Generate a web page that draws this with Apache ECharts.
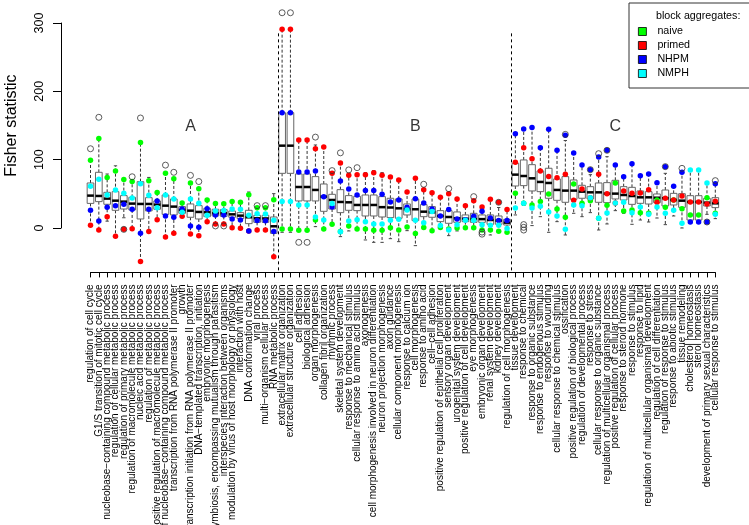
<!DOCTYPE html>
<html><head><meta charset="utf-8">
<script src="https://cdn.jsdelivr.net/npm/echarts@6/dist/echarts.min.js"></script>
<style>html,body{margin:0;padding:0;background:#fff}#c{width:749px;height:525px}</style>
</head><body><div id="c"></div>
<script>
const categories = [
"regulation of cell cycle","G1/S transition of mitotic cell cycle","nucleobase\u2212containing compound metabolic process","regulation of cellular metabolic process","regulation of primary metabolic process","regulation of macromolecule metabolic process","nucleic acid metabolic process","regulation of metabolic process","positive regulation of macromolecule metabolic process","regulation of nucleobase\u2212containing compound metabolic process","transcription from RNA polymerase II promoter","growth","transcription initiation from RNA polymerase II promoter","DNA\u2212templated transcription, initiation","embryonic morphogenesis","symbiosis, encompassing mutualism through parasitism","interspecies interaction between organisms","modulation by virus of host morphology or physiology","interaction with host","DNA conformation change","viral process","multi\u2212organism cellular process","RNA metabolic process",
"extracellular matrix organization","extracellular structure organization","cell adhesion","biological adhesion","organ morphogenesis","collagen fibril organization","rhythmic process","skeletal system development","response to mechanical stimulus","cellular response to amino acid stimulus","axonogenesis","cell morphogenesis involved in neuron differentiation","neuron projection morphogenesis","axon guidance","cellular component morphogenesis","response to calcium ion","cell morphogenesis","response to amino acid","cell\u2212cell adhesion","positive regulation of epithelial cell proliferation","sensory organ development","urogenital system development","positive regulation of cell development","eye morphogenesis","embryonic organ development","renal system development","kidney development","regulation of cell morphogenesis",
"tissue development","response to chemical","response to organic substance","response to endogenous stimulus","response to wounding","cellular response to chemical stimulus","ossification","positive regulation of biological process","regulation of developmental process","response to stress","cellular response to organic substance","regulation of multicellular organismal process","positive regulation of cellular process","response to steroid hormone","response to stimulus","response to lipid","regulation of multicellular organismal development","regulation of cell differentiation","regulation of response to stimulus","response to abiotic stimulus","tissue remodeling","cholesterol homeostasis","sterol homeostasis","development of primary sexual characteristics","cellular response to stimulus"];

const boxLow = [4,-3,10,-12,15,-1,-49,-5,12,-13,-8,17,-8.7,-11,9.3,5.9,6,0.5,-0.5,-4.3,-2.9,-3,-41.9,
-6.3,-6.3,-3.4,-3.4,2,-1.4,5.4,-12.6,-4.3,-1.4,-17.5,-21,-21,-15.6,-20,-3.9,-25.8,0.9,-3.9,0.9,-11.2,-4.3,0.5,0.5,-2.9,-10.2,-4.8,-6.3,
19.1,33,3.5,16.6,-6.3,9.3,-10.2,21.5,16.6,22.5,-2.9,5.9,25.4,21.5,5.4,11.7,8.8,14.6,4.9,17.6,0,8.8,8.8,20,13.7];
const boxQ1 = [36,38.6,34.7,25.9,27.8,26.4,13.2,25,27.4,20,19.1,21.5,15.7,13.2,16.6,17.6,17,15.7,13.7,6.4,8.3,8.3,-7.8,
80,80,39.6,39.6,39.6,24.4,27.8,22.5,25.9,25.4,17.6,17.6,16.1,15.2,14.2,19.1,10.8,16.6,15.7,9.3,6.9,8.3,9.3,8.3,8.3,5.4,5.4,4.4,
61.5,62,54.2,53.2,43.5,40.5,37.6,42,43.5,42.5,37.6,37.1,42.5,41,34.6,36.1,35.1,37.1,32.2,33.7,30.2,11.7,11.7,32.2,29.8];
const boxMedian = [47.4,46.9,43,40,38.6,35.7,35.2,35.2,34.2,32.7,31.3,26.4,25.4,23.5,23,21.5,21.5,20,18.1,15.7,14.2,14,2.5,
120.5,120.5,60,60,55.7,45.9,41,38.1,37.6,33.7,33.7,33.7,30.5,30,28.8,27.4,27.4,23.9,23,17.6,16.1,14.2,13.5,13.3,13,11.7,10.8,7.8,
78.1,76.1,72.7,67.4,65.9,55.7,54.7,54.7,53.2,52.2,52.2,50.3,50.3,48.3,46.8,44.9,44.9,44.3,43.6,41,40,38.1,38.1,37.1,36.1];
const boxQ3 = [65.9,81.5,52.2,53.2,47.4,44.9,67.8,44.4,39.6,48.3,42.5,31.3,35.2,32.7,28.8,27.4,27,24.9,22.5,25.9,18.6,18.6,16.1,
168.8,168.8,79.1,79.1,75.2,64.4,49.3,56.1,47.4,46.4,48.3,48.3,45.9,43.5,42.5,35.2,42.5,34.2,31.3,25.4,25.4,23.5,19.1,21.5,19.1,19.1,17.6,12.7,
94.7,99.6,92.7,83.5,87.4,71.8,75.2,70.3,62.5,60.5,65.9,66.4,69.8,60.5,59.5,54.2,53.2,49.8,55.6,50.7,50.2,47.3,47.3,43.4,44.4];
const boxHigh = [99,131,79,91,71,68,125,74,52,80,72,37,66,57.6,41,35.7,35.5,38.6,37.6,52.7,29.8,29.5,50.3,
291,291,128.8,128.8,121.5,118.6,80,95.2,77.1,78.1,81,84,81,74.7,70.3,52.7,72.7,56.1,51.7,45,50.3,42.5,32.7,40,30.8,42,30,26.9,
138.1,144.9,146.9,117.6,144.4,113.7,128,109.8,92.2,78,103.9,104.4,92.2,75.1,94.2,76.6,79,66.4,80,61,81.5,84.9,84.9,65.9,64.9];
const outliers = [[116],[162],[],[],[-2],[75],[161],[],[],[92],[81.5],[],[77],[68],[],[3],[3],[],[],[],[32.7],[32.7],[],
[315],[315],[-21],[-21],[133],[],[84],[110],[85],[88.3],[],[],[],[],[],[],[],[64],[],[],[57.6],[],[],[45.9],[-6,-9],[],[37.6],[],
[],[5,1,-3],[],[],[],[],[137],[],[],[85.4],[108.8],[113.7],[],[],[],[],[],[],[89.8],[],[87.3],[],[],[8.8],[69.3]];

const naive = [99,131,74,83.5,71,68,125,69,52,80,72,36.6,66,57.6,41,35.7,35.5,38.6,37.6,48.8,29.8,29.5,41.5,
-1.4,-1.4,-3.4,-3.4,11.7,-1.4,5.4,-5,3,-1.4,-1.4,-3.4,-3.4,0.5,-2.9,1.5,-8.2,0.9,-3.9,0.9,-1.4,0,0.5,0.5,-2.9,-2.9,-4.8,-6.3,
50.8,36.1,33.7,38.6,49.8,27.9,15.7,64.4,36.1,40,14.2,33.2,65.9,24.9,26.4,22.5,21.5,41,30.2,41,28.3,19,19,44.4,21.5];
const primed = [4,-3,16.6,-12,-2,-1,-49,-5.3,12.2,-13,-7.8,17.1,-8.7,-11.2,9.3,5.9,6,0.5,-0.5,-4.3,-2.9,-3,-41.9,
291,291,128.8,128.8,116,118.6,80,95.2,77.1,78.1,78.1,81,77.1,74.7,70.3,52.7,72.7,56.1,51.7,45,50.3,42.5,32.7,40,30.8,42,37.6,26.9,
96.1,117.6,101.5,83.5,75.2,73.7,78.6,40.5,57.1,44.4,78.6,50.3,36.6,54.2,50.7,51.2,56.1,37.6,43.4,41,46.8,38.1,38.1,35.1,39];
const nhpm = [25.9,10.3,30.3,32.7,34.7,27.4,-7.8,27.4,39.6,17.6,15.7,27.9,3,1,28.3,19.1,19,13.2,11.7,-4.3,10.8,10.5,-5.3,
168.8,168.8,82,82,83.5,45.9,30.8,68.8,57.1,48.3,54.7,54.7,49.3,38.1,41,30.3,42.9,36.6,27.9,17.6,26.9,13.2,12.2,17.1,24.4,14.7,10.8,10.8,
138.1,144.9,146.9,117.6,144.4,113.7,135.6,109.8,92.2,85.4,103.9,113.7,92.2,75.1,94.2,76.6,79,66.4,89.8,61,81.5,8.8,8.8,8.8,64.9];
const nmph = [61,71.3,48.3,55.7,50.8,43.9,64.9,47.8,29.8,48.3,42.5,23,42.5,36.1,18.6,24.9,25.5,27.8,27.4,18.6,21,20.5,11.3,
38.6,38.6,33.7,33.7,16.1,11.7,35.7,-5.4,10.3,12.2,9.3,5.9,5.9,11.3,12.7,26.4,11.3,7.8,24,3.5,-2.9,4.9,11.3,11.3,4.9,4,4,-0.9,
29.3,36.1,29.3,31.7,23.5,17.6,-1.9,33.7,32.7,44.4,14.2,22,36.6,37.6,22.5,30.7,20,30.7,21.5,25.9,6.8,84.9,84.9,65.9,20];

const groupLabels = ["A","B","C"];
const groupLabelPos = [12, 39, 63];
const groupLabelValue = 148;
const groupBreaks = [22.5, 50.5];
const breakRange = [-62, 288];
const yTicks = [0, 100, 200, 300];

// layout
const FONT = "'Liberation Sans', Arial, Helvetica, sans-serif";
const zeroY = 228, pxPerUnit = 0.6833;
const yMin = -65, yMax = 330;
const plotLeft = 90.5, plotRight = 715.3;

const n = categories.length;
const boxRows = categories.map((c, i) => [i, boxLow[i], boxQ1[i], boxMedian[i], boxQ3[i], boxHigh[i]]);
const outlierPts = [];
outliers.forEach((arr, i) => arr.forEach(v => outlierPts.push([i, v])));
const pts = a => a.map((v, i) => [i, v]);

function renderBox(params, api) {
  const i = api.value(0);
  const pLo = api.coord([i, api.value(1)]);
  const yQ1 = api.coord([i, api.value(2)])[1];
  const yMed = api.coord([i, api.value(3)])[1];
  const yQ3 = api.coord([i, api.value(4)])[1];
  const yHi = api.coord([i, api.value(5)])[1];
  const step = api.coord([i + 1, 0])[0] - api.coord([i, 0])[0];
  const x = pLo[0], yLo = pLo[1];
  const half = step * 0.4, cap = step * 0.2;
  const dash = {stroke: '#333', lineWidth: 1, lineDash: [3, 2]};
  const solid = {stroke: '#444', lineWidth: 1};
  return {type: 'group', children: [
    {type: 'line', shape: {x1: x, y1: yQ3, x2: x, y2: yHi}, style: dash},
    {type: 'line', shape: {x1: x, y1: yQ1, x2: x, y2: yLo}, style: dash},
    {type: 'line', shape: {x1: x - cap, y1: yHi, x2: x + cap, y2: yHi}, style: solid},
    {type: 'line', shape: {x1: x - cap, y1: yLo, x2: x + cap, y2: yLo}, style: solid},
    {type: 'rect', shape: {x: x - half, y: yQ3, width: half * 2, height: yQ1 - yQ3}, style: {fill: '#fff', stroke: '#666', lineWidth: 1}},
    {type: 'line', shape: {x1: x - half, y1: yMed, x2: x + half, y2: yMed}, style: {stroke: '#000', lineWidth: 2.5}}
  ]};
}

const chart = echarts.init(document.getElementById('c'), null, {renderer: 'canvas'});
const ptSeries = (name, data, color) => ({
  name, type: 'scatter', xAxisIndex: 1, yAxisIndex: 0, data: pts(data), symbol: 'circle', symbolSize: 5.5,
  itemStyle: {color, opacity: 1}, z: 3, clip: false, silent: true
});

chart.setOption({
  animation: false,
  backgroundColor: '#fff',
  textStyle: {fontFamily: FONT},
  title: {text: 'block aggregates:', left: 651, top: 6, padding: 5,
    textStyle: {fontSize: 10.7, fontWeight: 'normal', color: '#000', fontFamily: FONT}},
  legend: {
    data: ['naive', 'primed', 'NHPM', 'NMPH'], orient: 'vertical', left: 629, top: 3,
    padding: [22, 90, 8, 9], itemWidth: 8, itemHeight: 8, itemGap: 1, icon: 'rect',
    borderColor: '#333', borderWidth: 1, borderRadius: 0,
    itemStyle: {borderColor: '#000', borderWidth: 0.8},
    textStyle: {fontSize: 10.7, color: '#000', lineHeight: 13, padding: [0, 0, 0, 6], fontFamily: FONT},
    selectedMode: false
  },
  grid: [
    {left: plotLeft, right: 749 - plotRight, top: zeroY - yMax * pxPerUnit, height: (yMax - yMin) * pxPerUnit, outerBoundsMode: 'none', containLabel: false},
    {left: 61, width: 20, top: zeroY - 300 * pxPerUnit, height: 300 * pxPerUnit, outerBoundsMode: 'none', containLabel: false}
  ],
  xAxis: [
    {type: 'category', gridIndex: 0, data: categories, boundaryGap: false,
      axisLine: {show: true, onZero: false, lineStyle: {color: '#000', width: 1}},
      axisTick: {show: true, length: 5, interval: 0, lineStyle: {color: '#000'}},
      axisLabel: {interval: 0, rotate: 90, fontSize: 10, margin: 12, color: '#000', fontFamily: FONT, hideOverlap: false},
      splitLine: {show: false}},
    {type: 'value', gridIndex: 0, min: 0, max: n - 1, show: false},
    {type: 'value', gridIndex: 1, min: 0, max: 1, show: false}
  ],
  yAxis: [
    {type: 'value', gridIndex: 0, min: yMin, max: yMax, show: false},
    {type: 'value', gridIndex: 1, min: yTicks[0], max: yTicks[yTicks.length - 1], interval: 100,
      axisLine: {show: true, onZero: false, lineStyle: {color: '#000', width: 1}},
      axisTick: {show: true, length: 8, lineStyle: {color: '#000'}},
      axisLabel: {rotate: 90, fontSize: 12.5, margin: 15, color: '#000', fontFamily: FONT},
      splitLine: {show: false},
      name: 'Fisher statistic', nameLocation: 'middle', nameRotate: 90, nameGap: 41,
      nameTextStyle: {fontSize: 16, color: '#000', fontFamily: FONT}}
  ],
  series: [
    {type: 'custom', name: 'boxes', xAxisIndex: 1, yAxisIndex: 0, data: boxRows,
      encode: {x: 0, y: [1, 2, 3, 4, 5]}, renderItem: renderBox, z: 2, silent: true, clip: false},
    ptSeries('naive', naive, '#00ff00'),
    ptSeries('primed', primed, '#ff0000'),
    ptSeries('NHPM', nhpm, '#0000ff'),
    ptSeries('NMPH', nmph, '#00ffff'),
    {type: 'scatter', name: 'outliers', xAxisIndex: 1, yAxisIndex: 0, data: outlierPts,
      symbol: 'circle', symbolSize: 6, itemStyle: {color: 'rgba(0,0,0,0)', borderColor: '#333', borderWidth: 0.8, opacity: 1},
      z: 4, clip: false, silent: true},
    {type: 'scatter', name: 'groups', xAxisIndex: 1, yAxisIndex: 0,
      data: groupLabels.map((g, k) => ({name: g, value: [groupLabelPos[k], groupLabelValue]})),
      symbolSize: 1, itemStyle: {color: 'rgba(0,0,0,0)'}, silent: true, z: 5,
      label: {show: true, position: 'inside', formatter: p => p.name, fontSize: 16, color: '#000', fontFamily: FONT},
      markLine: {symbol: 'none', silent: true, label: {show: false},
        lineStyle: {type: [3, 3], color: '#000', width: 1},
        data: groupBreaks.map(b => [{coord: [b, breakRange[0]]}, {coord: [b, breakRange[1]]}])}}
  ]
});
</script></body></html>
